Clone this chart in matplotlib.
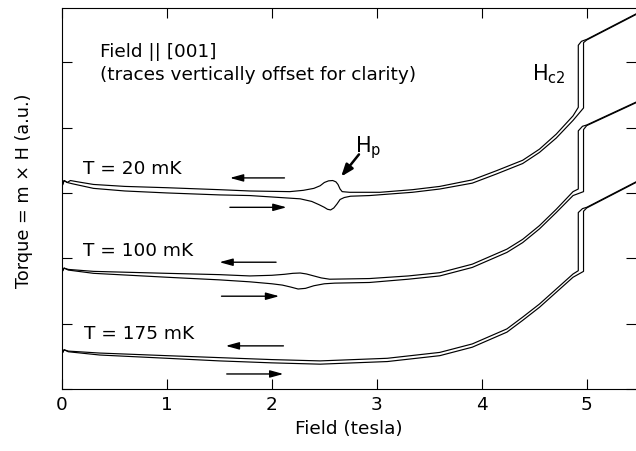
import numpy as np
from matplotlib import pyplot as plt

plt.rcParams['font.family'] = ['DejaVu Sans']
plt.rcParams['mathtext.fontset'] = 'dejavusans'

# 20 mK trace (offset), down sweep is the upper branch, up sweep the lower one
field_20_down = [0.0, 0.02, 0.05, 0.08, 0.15, 0.3, 0.6, 1.0, 1.5, 1.79, 2.17, 2.3, 2.4, 2.46, 2.5, 2.54, 2.58,
                 2.61, 2.63, 2.65, 2.67, 2.74, 3.03, 3.34, 3.6, 3.91, 4.14, 4.39, 4.55, 4.71, 4.87, 4.92, 4.92,
                 4.95, 5.0, 5.47]
torque_20_down = [3.10, 3.19, 3.16, 3.19, 3.17, 3.13, 3.10, 3.08, 3.05, 3.03, 3.02, 3.04, 3.07, 3.11, 3.16, 3.185,
                  3.19, 3.17, 3.13, 3.06, 3.02, 3.01, 3.01, 3.05, 3.10, 3.20, 3.34, 3.50, 3.67, 3.90, 4.18, 4.31,
                  5.26, 5.32, 5.35, 5.74]
field_20_up = [0.0, 0.02, 0.05, 0.1, 0.3, 0.6, 1.0, 1.5, 1.79, 2.27, 2.38, 2.45, 2.5, 2.53, 2.56, 2.59, 2.62,
               2.65, 2.69, 2.75, 2.93, 3.34, 3.6, 3.91, 4.14, 4.39, 4.55, 4.71, 4.87, 4.97, 4.97, 5.0, 5.47]
torque_20_up = [3.10, 3.19, 3.16, 3.14, 3.07, 3.03, 3.00, 2.97, 2.96, 2.91, 2.87, 2.82, 2.78, 2.75, 2.74, 2.77,
                2.83, 2.90, 2.93, 2.95, 2.96, 3.01, 3.06, 3.15, 3.29, 3.45, 3.62, 3.84, 4.11, 4.30, 5.30, 5.34,
                5.73]

# 100 mK trace
field_100_down = [0.0, 0.02, 0.06, 0.3, 1.0, 1.5, 1.79, 2.0, 2.12, 2.2, 2.27, 2.33, 2.4, 2.47, 2.55, 2.93, 3.3,
                  3.6, 3.91, 4.24, 4.39, 4.55, 4.71, 4.87, 4.92, 4.92, 4.96, 5.0, 5.47]
torque_100_down = [1.79, 1.85, 1.83, 1.80, 1.77, 1.75, 1.73, 1.74, 1.755, 1.77, 1.775, 1.76, 1.73, 1.70, 1.68,
                   1.69, 1.73, 1.78, 1.91, 2.14, 2.29, 2.50, 2.75, 3.02, 3.06, 3.95, 4.02, 4.04, 4.39]
field_100_up = [0.0, 0.02, 0.06, 0.3, 1.0, 1.5, 1.79, 2.0, 2.1, 2.18, 2.25, 2.32, 2.4, 2.5, 2.6, 2.93, 3.3,
                3.6, 3.91, 4.24, 4.39, 4.55, 4.71, 4.87, 4.97, 4.97, 5.0, 5.47]
torque_100_up = [1.79, 1.85, 1.82, 1.77, 1.71, 1.67, 1.64, 1.61, 1.59, 1.56, 1.53, 1.54, 1.58, 1.61, 1.62,
                 1.63, 1.68, 1.73, 1.86, 2.09, 2.24, 2.45, 2.70, 2.96, 3.02, 3.97, 4.03, 4.38]

# 175 mK trace
field_175_down = [0.0, 0.02, 0.06, 0.36, 1.0, 1.5, 2.0, 2.46, 3.1, 3.6, 3.91, 4.24, 4.39, 4.55, 4.71, 4.87, 4.92,
                  4.92, 4.96, 5.0, 5.47]
torque_175_down = [0.54, 0.60, 0.58, 0.55, 0.51, 0.48, 0.45, 0.43, 0.47, 0.56, 0.69, 0.92, 1.10, 1.30, 1.53, 1.76,
                   1.81, 2.70, 2.76, 2.78, 3.17]
field_175_up = [0.0, 0.02, 0.06, 0.36, 1.0, 1.5, 2.0, 2.46, 3.1, 3.6, 3.91, 4.24, 4.39, 4.55, 4.71, 4.87, 4.97,
                4.97, 5.0, 5.47]
torque_175_up = [0.54, 0.60, 0.57, 0.52, 0.47, 0.43, 0.40, 0.38, 0.42, 0.51, 0.64, 0.87, 1.05, 1.25, 1.48, 1.71,
                 1.80, 2.72, 2.77, 3.16]

trace_labels = ['T = 20 mK', 'T = 100 mK', 'T = 175 mK']
label_x = [0.2, 0.2, 0.21]
label_y = [3.31, 2.05, 0.775]

# sweep direction arrows: (x_start, x_end, y)
arrows_down = [(2.12, 1.60, 3.23), (2.04, 1.50, 1.94), (2.11, 1.56, 0.66)]
arrows_up = [(1.60, 2.14, 2.78), (1.52, 2.07, 1.42), (1.57, 2.11, 0.23)]

x_ticks = [0, 1, 2, 3, 4, 5]
y_ticks = [0, 1, 2, 3, 4, 5]


def main():
    fig = plt.figure(figsize=(6.36, 4.52), dpi=100)
    ax = fig.add_axes([62 / 636, 62 / 452, 574 / 636, 381 / 452])

    lw = 0.85
    for f, t in [(field_20_down, torque_20_down), (field_20_up, torque_20_up),
                 (field_100_down, torque_100_down), (field_100_up, torque_100_up),
                 (field_175_down, torque_175_down), (field_175_up, torque_175_up)]:
        ax.plot(f, t, color='black', lw=lw, solid_joinstyle='round')

    for lab, x, y in zip(trace_labels, label_x, label_y):
        ax.text(x, y, lab, fontsize=13.3, va='baseline', ha='left')

    for x0, x1, y in arrows_down + arrows_up:
        ax.annotate('', xy=(x1, y), xytext=(x0, y),
                    arrowprops=dict(arrowstyle='-|>,head_length=0.8,head_width=0.22', color='black',
                                    lw=1.0, mutation_scale=10, shrinkA=0, shrinkB=0))

    ax.text(0.365, 5.10, 'Field || [001]', fontsize=13.3, va='baseline', ha='left')
    ax.text(0.365, 4.74, '(traces vertically offset for clarity)', fontsize=13.3, va='baseline', ha='left')
    ax.text(4.48, 4.74, r'H$_{\rm c2}$', fontsize=15, va='baseline', ha='left')
    ax.text(2.79, 3.64, r'H$_{\rm p}$', fontsize=15, va='baseline', ha='left')
    ax.annotate('', xy=(2.66, 3.25), xytext=(2.83, 3.59),
                arrowprops=dict(arrowstyle='-|>,head_length=0.8,head_width=0.3', color='black', lw=1.8,
                                mutation_scale=9, shrinkA=0, shrinkB=0))

    ax.set_xlim(0, 5.47)
    ax.set_ylim(0, 5.83)
    ax.set_xticks(x_ticks)
    ax.set_yticks(y_ticks)
    ax.set_yticklabels([])
    ax.tick_params(direction='in', length=7.2, width=0.8, top=True, right=True, labelsize=13.3, pad=4.5)
    ax.spines['right'].set_visible(False)
    for s in ['left', 'bottom', 'top']:
        ax.spines[s].set_linewidth(0.8)

    ax.set_xlabel('Field (tesla)', fontsize=13.3, labelpad=4)
    ax.set_ylabel('Torque = m \u00d7 H (a.u.)', fontsize=12.7)
    ax.yaxis.set_label_coords(-0.05, 0.522)

    fig.savefig('out.png', dpi=100)


if __name__ == '__main__':
    main()
